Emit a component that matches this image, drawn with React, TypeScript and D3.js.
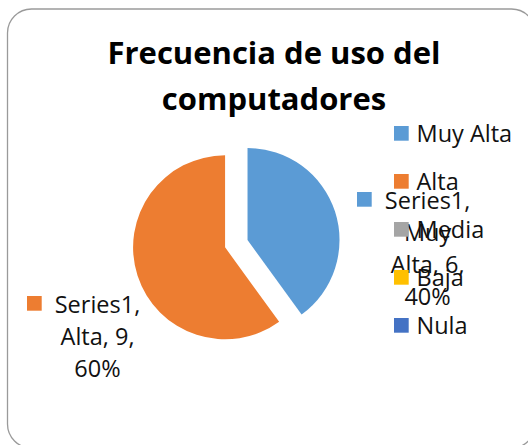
import React from 'react';
import * as d3 from 'd3';

const categories = ['Muy Alta', 'Alta', 'Media', 'Baja', 'Nula'];
const values = [6, 9, 0, 0, 0];
const colors = ['#5B9BD5', '#ED7D31', '#A5A5A5', '#FFC000', '#4472C4'];
const seriesName = 'Series1';

const W = 528;
const H = 445;
const FONT = "'Open Sans', sans-serif";

const App: React.FC = () => {
  const cx = 236.3;
  const cy = 243.7;
  const r = 92;
  const explode = 11.8;

  const total = d3.sum(values);
  const pie = d3.pie<number>().sort(null).value(d => d);
  const arcs = pie(values);
  const arc = d3.arc<d3.PieArcDatum<number>>().innerRadius(0).outerRadius(r);
  const pct = d3.format('.0%');

  // label boxes for the non-zero slices (Excel "best fit" placement)
  const labelPos: Record<number, { x: number; y: number; kx: number; ky: number }> = {
    0: { x: 427.6, y: 209, kx: 357, ky: 192 },
    1: { x: 97.5, y: 313, kx: 27, ky: 296 },
  };

  const legendX = 394;
  const legendY = 126;
  const legendStep = 48;
  const sq = 14.7;

  return (
    <svg width={W} height={H} style={{ position: 'absolute', left: 0, top: 0 }} fontFamily={FONT}>
      <rect x={7.5} y={9} width={528} height={439} rx={24} fill="#fff" stroke="#9a9a9a" strokeWidth={1.3} />

      <text x={274} y={64} textAnchor="middle" fontSize={31} fontWeight={700} fill="#000">
        Frecuencia de uso del
      </text>
      <text x={274} y={110} textAnchor="middle" fontSize={31} fontWeight={700} fill="#000">
        computadores
      </text>

      {arcs.map((a, i) => {
        if (a.value === 0) return null;
        const mid = (a.startAngle + a.endAngle) / 2;
        const dx = Math.sin(mid) * explode;
        const dy = -Math.cos(mid) * explode;
        return (
          <path key={i} d={arc(a) || ''} fill={colors[i]} transform={`translate(${cx + dx},${cy + dy})`} />
        );
      })}

      {arcs.map((a, i) => {
        const p = labelPos[i];
        if (a.value === 0 || !p) return null;
        const lines = i === 0
          ? [`${seriesName},`, categories[i].split(' ')[0], `${categories[i].split(' ')[1]}, ${values[i]},`, pct(values[i] / total)]
          : [`${seriesName},`, `${categories[i]}, ${values[i]},`, pct(values[i] / total)];
        return (
          <g key={i}>
            <rect x={p.kx} y={p.ky} width={sq} height={sq} fill={colors[i]} />
            {lines.map((t, j) => (
              <text key={j} x={p.x} y={p.y + j * 32} textAnchor="middle" fontSize={23.5} fill="#111">
                {t}
              </text>
            ))}
          </g>
        );
      })}

      {categories.map((c, i) => (
        <g key={c}>
          <rect x={legendX} y={legendY + i * legendStep} width={sq} height={sq} fill={colors[i]} />
          <text x={416.5} y={legendY + i * legendStep + 15.7} fontSize={23.5} fill="#111">
            {c}
          </text>
        </g>
      ))}
    </svg>
  );
};

export default App;
